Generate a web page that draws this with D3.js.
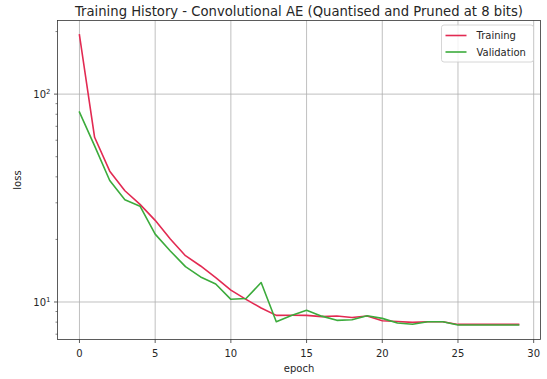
<!DOCTYPE html>
<html>
<head>
<meta charset="utf-8">
<script src="https://cdn.jsdelivr.net/npm/d3@7/dist/d3.min.js"></script>
<style>
  html, body { margin: 0; padding: 0; background: #ffffff; }
  svg { display: block; font-family: "DejaVu Sans", sans-serif; }
</style>
</head>
<body>
<svg id="chart" width="547" height="379"></svg>
<script>
// Loss per epoch for the quantised + pruned convolutional autoencoder
const epochs = d3.range(0, 30);
const trainingLoss = [
  192.5, 62.0, 42.6, 34.3, 29.5, 24.7, 20.1, 16.7, 14.9, 13.1,
  11.4, 10.3, 9.35, 8.62, 8.63, 8.62, 8.50, 8.56, 8.42, 8.56,
  8.12, 8.05, 7.98, 8.03, 8.03, 7.80, 7.80, 7.80, 7.80, 7.80
];
const validationLoss = [
  81.9, 56.4, 38.4, 31.0, 28.9, 21.2, 17.6, 14.8, 13.2, 12.2,
  10.3, 10.4, 12.4, 8.03, 8.60, 9.12, 8.55, 8.16, 8.22, 8.58,
  8.34, 7.92, 7.82, 8.03, 8.03, 7.75, 7.75, 7.75, 7.75, 7.75
];
const seriesNames = ["Training", "Validation"];
const seriesColors = ["#e22a52", "#3cab3c"];
const xTickValues = [0, 5, 10, 15, 20, 25, 30];
const yMajorTicks = [10, 100];
const yMinorTicks = [7, 8, 9, 20, 30, 40, 50, 60, 70, 80, 90, 200];
const titleText = "Training History - Convolutional AE (Quantised and Pruned at 8 bits)";

const svg = d3.select("#chart");
const box = { left: 57.5, right: 540.5, top: 20.5, bottom: 339.5 };

// x: 5% padding on each side of the epoch range
const xExt = d3.extent(epochs);
const xPad = (xExt[1] - xExt[0]) * 0.05;
const x = d3.scaleLinear()
  .domain([xExt[0] - xPad, xExt[1] + xPad])
  .range([box.left, box.right]);

// y: log scale, 5% padding in log space
const allVals = trainingLoss.concat(validationLoss);
const lMin = Math.log10(d3.min(allVals)), lMax = Math.log10(d3.max(allVals));
const lPad = (lMax - lMin) * 0.05;
const y = d3.scaleLog()
  .domain([Math.pow(10, lMin - lPad), Math.pow(10, lMax + lPad)])
  .range([box.bottom, box.top]);

const gridColor = "#b0b0b0";
const axisColor = "#333333";
const textColor = "#262626";

// grid
const grid = svg.append("g");
grid.selectAll("line.gx").data(xTickValues).join("line")
  .attr("x1", d => x(d)).attr("x2", d => x(d))
  .attr("y1", box.top).attr("y2", box.bottom)
  .attr("stroke", gridColor).attr("stroke-width", 0.8);
grid.selectAll("line.gy").data(yMajorTicks).join("line")
  .attr("x1", box.left).attr("x2", box.right)
  .attr("y1", d => y(d)).attr("y2", d => y(d))
  .attr("stroke", gridColor).attr("stroke-width", 0.8);

// series lines
const line = d3.line().x((d, i) => x(epochs[i])).y(d => y(d));
[trainingLoss, validationLoss].forEach((vals, k) => {
  svg.append("path")
    .datum(vals)
    .attr("d", line)
    .attr("fill", "none")
    .attr("stroke", seriesColors[k])
    .attr("stroke-width", 1.6)
    .attr("stroke-linejoin", "round")
    .attr("stroke-linecap", "square");
});

// frame
svg.append("rect")
  .attr("x", box.left).attr("y", box.top)
  .attr("width", box.right - box.left).attr("height", box.bottom - box.top)
  .attr("fill", "none").attr("stroke", axisColor).attr("stroke-width", 0.8);

// x axis ticks
const xAxis = svg.append("g");
xAxis.selectAll("line").data(xTickValues).join("line")
  .attr("x1", d => x(d)).attr("x2", d => x(d))
  .attr("y1", box.bottom).attr("y2", box.bottom + 3.5)
  .attr("stroke", axisColor).attr("stroke-width", 0.8);
xAxis.selectAll("text").data(xTickValues).join("text")
  .attr("x", d => x(d)).attr("y", box.bottom + 17)
  .attr("text-anchor", "middle")
  .attr("font-size", 10).attr("fill", textColor)
  .text(d => d);

// y axis ticks
const yAxis = svg.append("g");
yAxis.selectAll("line.maj").data(yMajorTicks).join("line")
  .attr("x1", box.left - 3.5).attr("x2", box.left)
  .attr("y1", d => y(d)).attr("y2", d => y(d))
  .attr("stroke", axisColor).attr("stroke-width", 0.8);
yAxis.selectAll("line.min").data(yMinorTicks).join("line")
  .attr("x1", box.left - 2).attr("x2", box.left)
  .attr("y1", d => y(d)).attr("y2", d => y(d))
  .attr("stroke", axisColor).attr("stroke-width", 0.6);
yMajorTicks.forEach(v => {
  const t = yAxis.append("text")
    .attr("x", box.left - 7).attr("y", y(v) + 4)
    .attr("text-anchor", "end")
    .attr("font-size", 10).attr("fill", textColor);
  t.append("tspan").text("10");
  t.append("tspan").attr("font-size", 7).attr("dy", -4).text(Math.round(Math.log10(v)));
});

// axis labels
svg.append("text")
  .attr("x", (box.left + box.right) / 2).attr("y", box.bottom + 32)
  .attr("text-anchor", "middle").attr("font-size", 10).attr("fill", textColor)
  .text("epoch");
svg.append("text")
  .attr("transform", `translate(21,${(box.top + box.bottom) / 2}) rotate(-90)`)
  .attr("text-anchor", "middle").attr("font-size", 10).attr("fill", textColor)
  .text("loss");

// title
svg.append("text")
  .attr("x", (box.left + box.right) / 2).attr("y", 15.5)
  .attr("text-anchor", "middle").attr("font-size", 13.2).attr("fill", textColor)
  .text(titleText);

// legend
const lg = svg.append("g").attr("transform", `translate(${box.right - 99},${box.top + 4.5})`);
lg.append("rect")
  .attr("width", 92).attr("height", 37).attr("rx", 2.5)
  .attr("fill", "#ffffff").attr("fill-opacity", 0.8)
  .attr("stroke", "#cccccc").attr("stroke-width", 0.8);
seriesNames.forEach((name, k) => {
  const yy = 10.5 + k * 16.5;
  lg.append("line")
    .attr("x1", 4).attr("x2", 25).attr("y1", yy).attr("y2", yy)
    .attr("stroke", seriesColors[k]).attr("stroke-width", 1.6);
  lg.append("text")
    .attr("x", 35).attr("y", yy + 3.6)
    .attr("font-size", 10).attr("fill", textColor)
    .text(name);
});
</script>
</body>
</html>
